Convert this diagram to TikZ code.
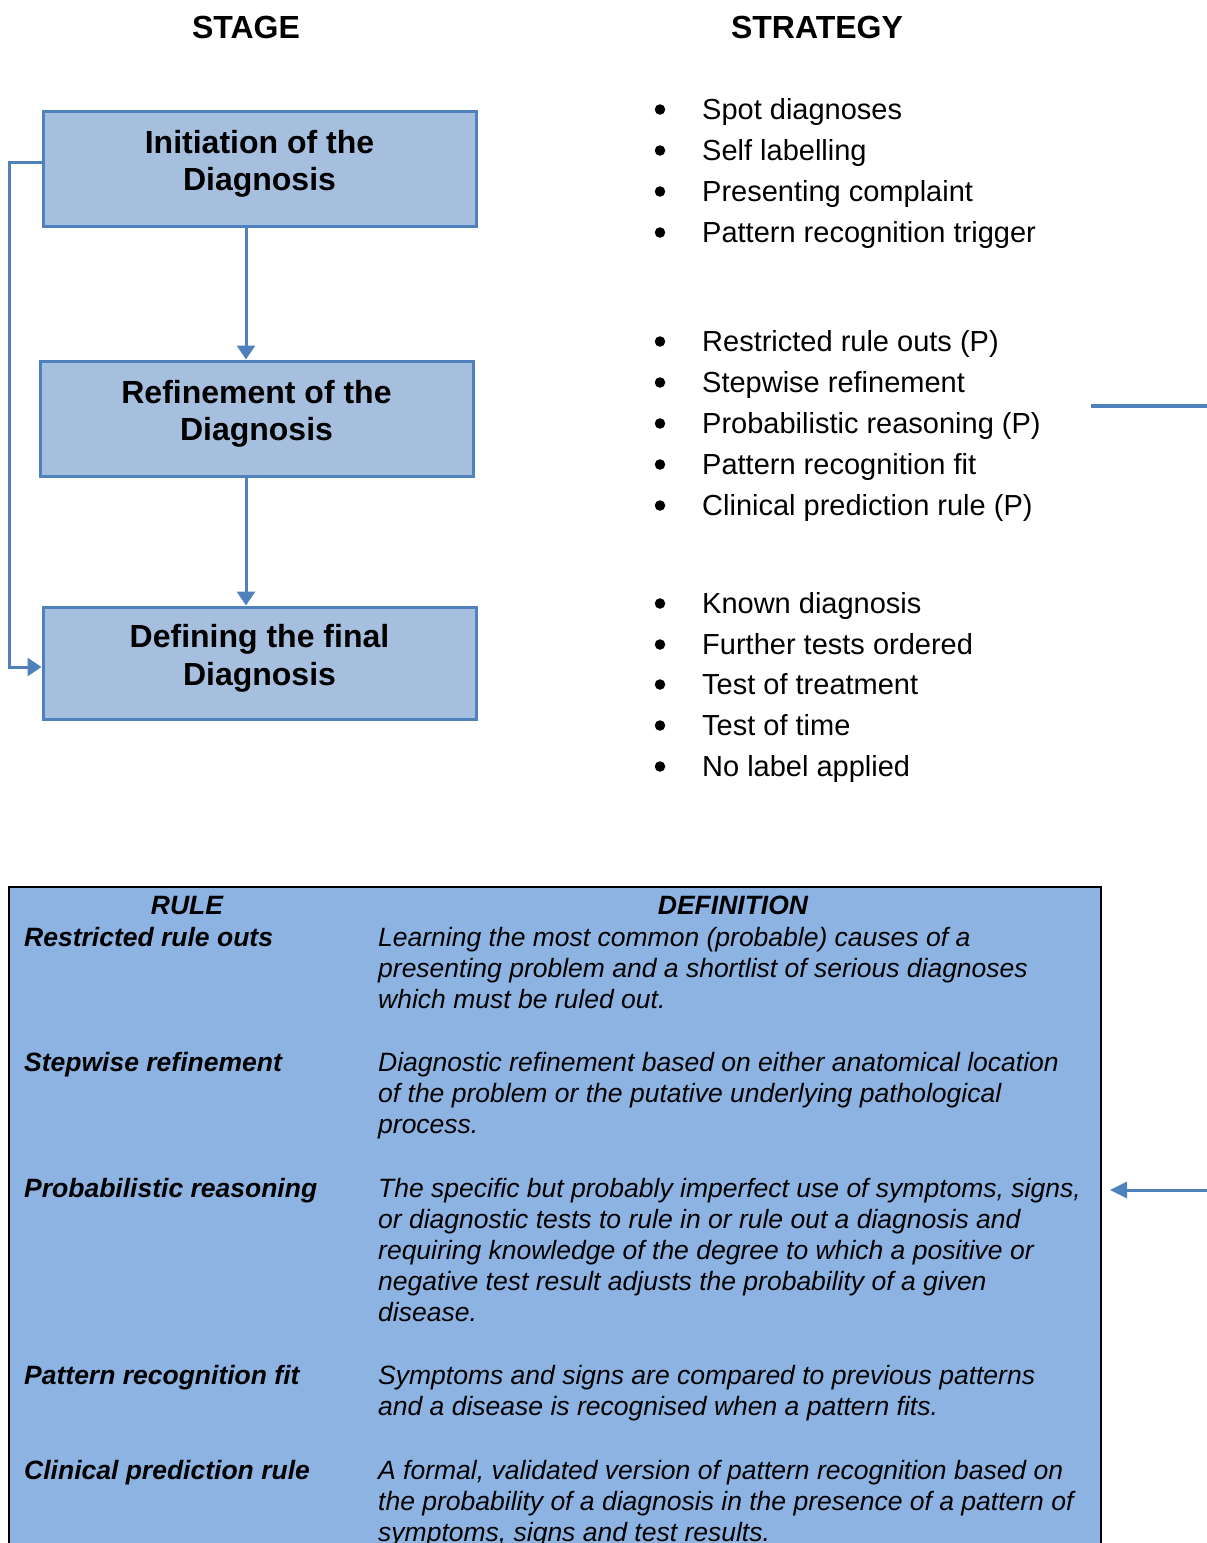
\documentclass[tikz,border=0pt]{standalone}
\usepackage{fontspec}
\setmainfont{Liberation Sans}
\usetikzlibrary{arrows.meta}

\definecolor{boxfill}{HTML}{A7BFDE}
\definecolor{boxline}{HTML}{4F81BD}
\definecolor{tablefill}{HTML}{8DB3E2}

\tikzset{
  stagebox/.style={draw=boxline, line width=3pt, fill=boxfill, minimum width=433pt,
    minimum height=115pt, inner sep=0pt, align=center,
    font=\fontsize{32}{37.5}\selectfont\bfseries},
  conn/.style={draw=boxline, line width=3pt},
  tip/.style={-{Triangle[width=18pt,length=14pt]}},
  colhead/.style={anchor=base, inner sep=0pt, font=\fontsize{32}{38}\selectfont\bfseries},
  bulletdot/.style={circle, fill=black, inner sep=0pt, minimum size=10.5pt},
  bullettext/.style={anchor=base west, inner sep=0pt, font=\fontsize{29}{41}\selectfont},
  tablehead/.style={anchor=base, inner sep=0pt, font=\fontsize{26.5}{31}\selectfont\bfseries\itshape},
  rulename/.style={anchor=base west, inner sep=0pt, font=\fontsize{26.5}{31}\selectfont\bfseries\itshape},
  % multi-line definitions are placed by the baseline of their last line
  ruledef/.style={anchor=base west, inner sep=0pt, align=left, font=\fontsize{26.5}{31}\selectfont\itshape},
}

\newcommand{\lowstrut}{\rule[-16pt]{0pt}{0pt}}

\begin{document}
\begin{tikzpicture}[x=1pt, y=-1pt]
\useasboundingbox (0,0) rectangle (1207,1543);
\clip (0,0) rectangle (1207,1543);

% column headings
\node[colhead] (stagehead) at (246,38) {STAGE};
\node[colhead] (strathead) at (817,38) {STRATEGY};

% the three stages
\node[stagebox] (init)   at (259.5,168.5) {Initiation of the\\Diagnosis\lowstrut};
\node[stagebox] (refine) at (256.5,418.5) {Refinement of the\\Diagnosis\lowstrut};
\node[stagebox, minimum height=112pt] (final) at (259.5,663) {Defining the final\\Diagnosis\lowstrut};

% vertical flow between stages
\coordinate (ax) at (246,0);
\draw[conn, tip] (init.south -| ax) -- (refine.north -| ax);
\draw[conn, tip] (refine.south -| ax) -- (final.north -| ax);

% bypass from initiation straight to the final stage
\coordinate (bendtop) at (9,162);
\coordinate (bendbot) at (9,667);
\draw[conn, tip] (init.west |- bendtop) -- (bendtop) -- (bendbot) -- (final.west |- bendbot);

% strategies for each stage
\foreach \y/\t [count=\i] in {
  119/Spot diagnoses,
  160/Self labelling,
  201/Presenting complaint,
  242/Pattern recognition trigger,
  351/Restricted rule outs (P),
  392/Stepwise refinement,
  433/Probabilistic reasoning (P),
  474/Pattern recognition fit,
  515/Clinical prediction rule (P),
  613/Known diagnosis,
  654/Further tests ordered,
  694/Test of treatment,
  735/Test of time,
  776/No label applied}{
  \node[bulletdot] (dot\i) at (660,\y-9.5) {};
  \node[bullettext] (strat\i) at (702,\y) {\t};
}

% links from the refinement strategies to the rule table
\coordinate (stubstart) at (1091,406);
\coordinate (stubend) at (1207,406);
\draw[conn, line width=4pt] (stubstart) -- (stubend);

% rule table
\node[draw=black, line width=2pt, fill=tablefill, anchor=north west, inner sep=0pt,
  minimum width=1092pt, minimum height=700pt] (table) at (8,886) {};

\coordinate (arrowstart) at (1207,1190);
\draw[conn, -{Triangle[width=16pt,length=17pt]}] (arrowstart) -- ([xshift=8pt]table.east |- arrowstart);

\node[tablehead] (rulehead) at (187,914) {RULE};
\node[tablehead] (defhead) at (733,914) {DEFINITION};

\node[rulename] (r1) at (24,946) {Restricted rule outs};
\node[ruledef] (d1) at (378,1008) {Learning the most common (probable) causes of a\\presenting problem and a shortlist of serious diagnoses\\which must be ruled out.};

\node[rulename] (r2) at (24,1071) {Stepwise refinement};
\node[ruledef] (d2) at (378,1133) {Diagnostic refinement based on either anatomical location\\of the problem or the putative underlying pathological\\process.};

\node[rulename] (r3) at (24,1197) {Probabilistic reasoning};
\node[ruledef] (d3) at (378,1321) {The specific but probably imperfect use of symptoms, signs,\\or diagnostic tests to rule in or rule out a diagnosis and\\requiring knowledge of the degree to which a positive or\\negative test result adjusts the probability of a given\\disease.};

\node[rulename] (r4) at (24,1384) {Pattern recognition fit};
\node[ruledef] (d4) at (378,1415) {Symptoms and signs are compared to previous patterns\\and a disease is recognised when a pattern fits.};

\node[rulename] (r5) at (24,1479) {Clinical prediction rule};
\node[ruledef] (d5) at (378,1541) {A formal, validated version of pattern recognition based on\\the probability of a diagnosis in the presence of a pattern of\\symptoms, signs and test results.};
\end{tikzpicture}
\end{document}
